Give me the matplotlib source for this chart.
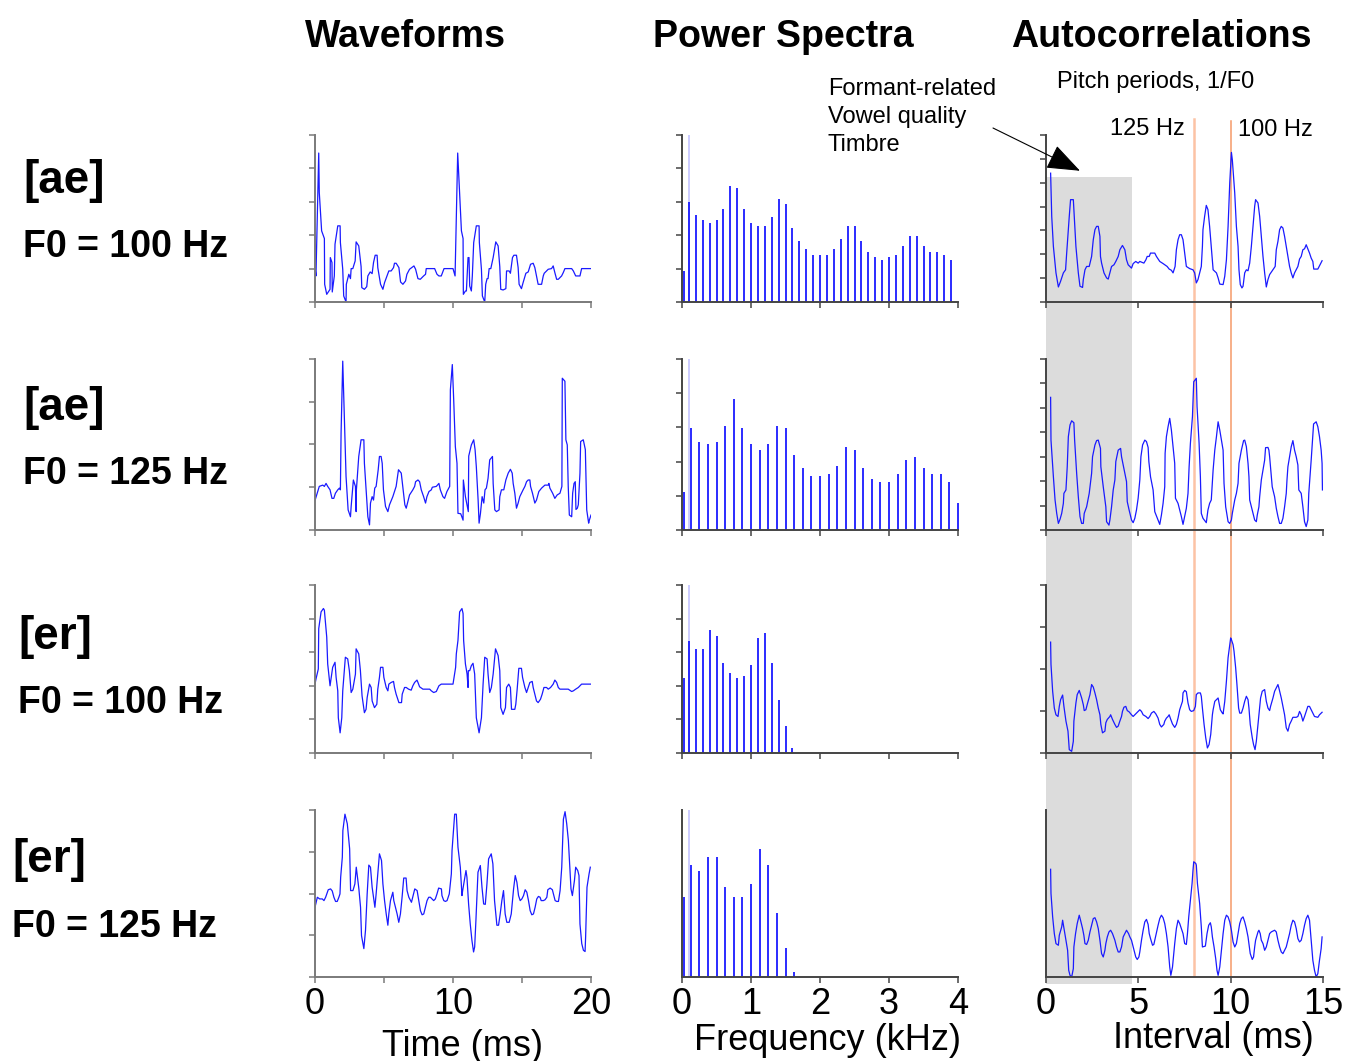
import matplotlib
matplotlib.use('Agg')
import matplotlib.pyplot as plt
from matplotlib.patches import Rectangle
from matplotlib.lines import Line2D

plt.rcParams['font.family'] = ['Liberation Sans', 'DejaVu Sans']

# ---- waveforms: (time ms, amplitude) ----
wave_ae100 = [(0.00, 1.03), (0.07, 0.78), (0.27, 4.46), (0.31, 3.28), (0.48, 2.13), (0.68, 1.90), (0.70, 0.53),
              (0.85, 0.23), (1.09, 0.38), (1.11, 1.33), (1.23, 1.18), (1.25, 0.30), (1.40, 0.78), (1.45, 1.73),
              (1.65, 2.28), (1.82, 2.28), (1.84, 1.78), (2.01, 0.98), (2.08, 0.18), (2.25, 0.00), (2.27, 0.53),
              (2.45, 0.83), (2.57, 0.70), (2.62, 1.00), (2.74, 1.00), (2.91, 1.23), (2.98, 1.80), (3.17, 1.68),
              (3.34, 1.06), (3.39, 0.43), (3.58, 0.38), (3.75, 0.46), (3.83, 0.78), (4.00, 0.90), (4.14, 0.85),
              (4.24, 1.18), (4.36, 1.40), (4.50, 1.40), (4.55, 1.03), (4.75, 0.53), (4.92, 0.38), (5.04, 0.58),
              (5.35, 0.93), (5.52, 0.93), (5.69, 1.03), (5.76, 1.16), (5.88, 1.16), (6.08, 1.03), (6.20, 0.60),
              (6.37, 0.53), (6.56, 0.63), (6.66, 0.83), (6.85, 0.98), (7.17, 1.08), (7.29, 0.98), (7.46, 0.70),
              (7.63, 0.68), (7.87, 0.78), (8.01, 0.83), (8.06, 1.00), (8.67, 1.00), (8.84, 0.83), (8.98, 0.78),
              (9.15, 0.78), (9.35, 1.00), (10.00, 1.00), (10.15, 0.78), (10.34, 4.46), (10.48, 3.28), (10.61, 2.13),
              (10.73, 1.90), (10.75, 0.23), (10.90, 0.33), (10.97, 0.33), (11.09, 1.33), (11.16, 1.33), (11.21, 0.48),
              (11.33, 0.33), (11.40, 0.78), (11.50, 1.78), (11.69, 2.28), (11.89, 2.28), (11.91, 1.78), (12.06, 0.98),
              (12.13, 0.18), (12.30, 0.00), (12.37, 0.53), (12.47, 0.70), (12.54, 0.70), (12.62, 1.00), (12.74, 1.00),
              (12.91, 1.33), (13.10, 1.80), (13.27, 1.68), (13.39, 1.06), (13.46, 0.38), (13.63, 0.36), (13.83, 0.40),
              (13.88, 0.93), (14.07, 0.93), (14.16, 0.86), (14.31, 1.33), (14.41, 1.40), (14.60, 1.40), (14.72, 1.03),
              (14.79, 0.53), (14.96, 0.40), (15.08, 0.58), (15.28, 0.86), (15.45, 0.90), (15.62, 1.13), (15.81, 1.16),
              (15.93, 1.03), (16.05, 0.78), (16.17, 0.53), (16.42, 0.53), (16.54, 0.78), (16.61, 0.86), (16.90, 0.98),
              (17.14, 1.00), (17.26, 1.08), (17.38, 0.88), (17.51, 0.68), (17.63, 0.68), (17.87, 0.78), (17.99, 0.88),
              (18.11, 1.00), (18.60, 1.00), (18.72, 0.93), (18.89, 0.78), (19.20, 0.78), (19.32, 1.00), (20.00, 1.00)]

wave_ae125 = [(0.00, 0.69), (0.31, 1.02), (0.56, 1.05), (0.68, 1.02), (0.80, 1.09), (0.92, 1.02), (1.09, 0.94),
              (1.23, 0.74), (1.36, 0.74), (1.48, 0.86), (1.65, 0.94), (1.77, 0.98), (1.84, 0.94), (1.89, 2.27),
              (2.01, 3.95), (2.18, 2.03), (2.25, 1.25), (2.40, 0.47), (2.57, 0.31), (2.62, 0.55), (2.78, 1.17),
              (2.93, 1.02), (2.98, 0.43), (3.00, 0.94), (3.17, 1.72), (3.34, 2.11), (3.54, 2.11), (3.58, 1.56),
              (3.70, 0.94), (3.83, 0.31), (3.95, 0.12), (4.02, 0.63), (4.14, 0.78), (4.24, 0.70), (4.33, 0.98),
              (4.43, 1.02), (4.58, 1.41), (4.67, 1.72), (4.79, 1.72), (4.87, 1.56), (4.96, 0.94), (5.11, 0.55),
              (5.28, 0.43), (5.40, 0.59), (5.64, 0.78), (5.88, 1.02), (6.05, 1.41), (6.25, 1.33), (6.42, 0.86),
              (6.51, 0.59), (6.61, 0.51), (6.73, 0.66), (6.85, 0.82), (7.09, 0.94), (7.22, 1.02), (7.29, 1.13),
              (7.46, 1.17), (7.58, 1.13), (7.70, 0.94), (7.87, 0.78), (8.01, 0.63), (8.11, 0.78), (8.26, 0.90),
              (8.43, 0.94), (8.50, 1.00), (8.79, 1.02), (8.98, 1.09), (9.08, 0.94), (9.27, 0.78), (9.39, 0.74),
              (9.56, 0.90), (9.76, 1.02), (9.81, 3.28), (9.95, 3.87), (10.05, 3.05), (10.17, 1.95), (10.29, 1.56),
              (10.36, 0.39), (10.56, 0.38), (10.73, 0.23), (10.75, 1.17), (10.90, 0.78), (11.04, 0.55), (11.11, 0.43),
              (11.14, 1.73), (11.33, 1.99), (11.50, 2.11), (11.60, 1.88), (11.69, 1.48), (11.82, 0.70), (11.89, 0.16),
              (11.99, 0.39), (12.11, 0.78), (12.23, 0.63), (12.32, 0.94), (12.42, 0.98), (12.54, 1.21), (12.66, 1.64),
              (12.86, 1.72), (12.91, 1.09), (13.03, 0.47), (13.15, 0.43), (13.34, 0.47), (13.39, 0.78), (13.51, 0.94),
              (13.68, 0.94), (13.83, 1.17), (14.00, 1.33), (14.16, 1.42), (14.29, 1.33), (14.36, 1.09), (14.48, 0.86),
              (14.60, 0.51), (14.72, 0.63), (14.84, 0.78), (14.96, 0.86), (15.08, 0.94), (15.21, 1.02), (15.33, 1.13),
              (15.45, 1.17), (15.57, 1.17), (15.62, 1.02), (15.76, 0.86), (15.93, 0.63), (16.05, 0.70), (16.22, 0.90),
              (16.42, 0.98), (16.66, 1.05), (16.90, 1.05), (16.95, 1.09), (17.02, 0.98), (17.22, 0.86), (17.38, 0.74),
              (17.55, 0.82), (17.75, 0.86), (17.89, 1.02), (17.92, 3.55), (18.11, 3.48), (18.18, 2.11), (18.28, 1.99),
              (18.35, 1.02), (18.43, 0.35), (18.60, 0.31), (18.67, 0.86), (18.77, 1.09), (18.86, 1.13), (18.91, 0.48),
              (19.01, 0.51), (19.08, 0.59), (19.20, 1.33), (19.25, 2.07), (19.44, 2.11), (19.59, 1.88), (19.69, 0.47),
              (19.83, 0.16), (19.88, 0.23), (20.00, 0.35)]

wave_er100 = [(0.00, 2.05), (0.07, 2.20), (0.24, 2.50), (0.27, 3.70), (0.44, 4.20), (0.61, 4.30), (0.68, 4.25),
              (0.85, 3.45), (0.92, 2.65), (1.09, 2.00), (1.21, 2.35), (1.28, 2.55), (1.45, 2.70), (1.53, 2.25),
              (1.65, 1.85), (1.69, 1.05), (1.82, 0.60), (1.94, 1.05), (2.01, 1.85), (2.20, 2.85), (2.37, 2.80),
              (2.49, 2.45), (2.62, 1.80), (2.74, 1.90), (2.93, 2.35), (2.98, 3.10), (3.17, 2.95), (3.29, 2.45),
              (3.41, 1.70), (3.58, 1.20), (3.70, 1.30), (3.78, 1.65), (3.95, 2.05), (4.07, 1.95), (4.14, 1.55),
              (4.31, 1.35), (4.48, 1.45), (4.55, 1.90), (4.67, 2.25), (4.75, 2.55), (4.92, 2.55), (4.99, 2.25),
              (5.16, 1.95), (5.28, 1.85), (5.35, 2.05), (5.52, 2.10), (5.69, 2.13), (5.76, 1.95), (5.88, 1.75),
              (6.08, 1.50), (6.27, 1.50), (6.32, 1.75), (6.49, 1.95), (6.61, 1.95), (6.78, 1.90), (6.97, 1.87),
              (7.09, 2.00), (7.22, 2.10), (7.39, 2.17), (7.46, 2.10), (7.58, 1.97), (7.82, 1.90), (8.31, 1.90),
              (8.43, 1.85), (8.60, 1.80), (8.79, 1.83), (8.98, 2.00), (9.15, 2.05), (10.00, 2.05), (10.19, 2.55),
              (10.24, 2.95), (10.36, 3.35), (10.48, 4.20), (10.65, 4.30), (10.73, 4.15), (10.77, 3.35), (10.90, 2.65),
              (11.02, 2.35), (11.09, 1.95), (11.11, 2.45), (11.21, 2.45), (11.33, 2.60), (11.45, 2.67), (11.57, 2.35),
              (11.69, 1.05), (11.89, 0.60), (12.06, 1.05), (12.18, 2.05), (12.30, 2.85), (12.47, 2.80), (12.54, 2.35),
              (12.66, 1.80), (12.78, 1.95), (12.91, 2.35), (13.08, 3.10), (13.27, 2.90), (13.39, 2.45), (13.46, 1.35),
              (13.63, 1.15), (13.80, 1.35), (13.88, 1.95), (14.04, 2.05), (14.16, 1.95), (14.24, 1.30), (14.48, 1.30),
              (14.55, 1.45), (14.65, 1.90), (14.77, 2.52), (14.96, 2.52), (15.04, 2.25), (15.21, 1.95), (15.33, 1.80),
              (15.45, 1.95), (15.57, 2.10), (15.74, 2.13), (15.81, 1.95), (15.93, 1.75), (16.05, 1.55), (16.17, 1.50),
              (16.34, 1.60), (16.46, 1.75), (16.59, 1.95), (16.78, 1.95), (16.90, 1.90), (17.07, 1.95), (17.26, 2.05),
              (17.38, 2.17), (17.51, 2.10), (17.63, 1.95), (17.75, 1.90), (18.35, 1.90), (18.60, 1.83), (18.72, 1.85),
              (18.89, 1.90), (19.08, 1.95), (19.32, 2.05), (20.00, 2.05)]

wave_er125 = [(0.00, 1.67), (0.17, 1.91), (0.34, 1.87), (0.53, 1.87), (0.65, 1.83), (0.77, 1.91), (0.96, 2.09),
              (1.13, 2.11), (1.25, 2.06), (1.37, 1.91), (1.49, 1.81), (1.61, 1.81), (1.73, 1.91), (1.81, 1.99),
              (1.86, 2.39), (1.98, 2.87), (2.02, 3.51), (2.17, 3.90), (2.34, 3.67), (2.51, 3.07), (2.58, 2.07),
              (2.75, 2.07), (2.89, 2.23), (2.99, 2.63), (3.08, 2.39), (3.18, 2.11), (3.30, 1.67), (3.37, 0.99),
              (3.54, 0.68), (3.66, 1.12), (3.78, 1.99), (3.90, 2.68), (4.02, 2.63), (4.14, 2.15), (4.27, 1.83),
              (4.34, 1.67), (4.43, 1.99), (4.55, 2.47), (4.67, 2.95), (4.82, 2.79), (4.92, 2.23), (5.04, 1.83),
              (5.16, 1.51), (5.28, 1.24), (5.35, 1.51), (5.47, 1.83), (5.64, 2.03), (5.71, 1.83), (5.83, 1.67),
              (5.95, 1.51), (6.07, 1.31), (6.19, 1.51), (6.31, 1.91), (6.43, 2.37), (6.60, 2.37), (6.67, 2.07),
              (6.80, 1.91), (6.99, 1.79), (7.08, 1.91), (7.23, 2.11), (7.40, 2.07), (7.52, 1.83), (7.64, 1.59),
              (7.76, 1.49), (7.88, 1.51), (8.00, 1.67), (8.12, 1.83), (8.24, 1.91), (8.36, 1.91), (8.48, 1.87),
              (8.60, 1.83), (8.72, 1.87), (8.84, 1.99), (8.96, 2.13), (9.16, 2.11), (9.20, 1.95), (9.33, 1.83),
              (9.45, 1.81), (9.57, 1.83), (9.73, 1.99), (9.88, 2.47), (9.93, 3.03), (10.12, 3.90), (10.24, 3.90),
              (10.36, 3.11), (10.53, 2.63), (10.65, 1.95), (10.70, 2.07), (10.80, 2.27), (10.94, 2.55), (11.01, 2.39),
              (11.13, 1.75), (11.25, 1.27), (11.37, 0.88), (11.49, 0.60), (11.57, 0.72), (11.66, 1.35), (11.81, 2.51),
              (11.98, 2.67), (12.10, 2.15), (12.22, 1.75), (12.34, 1.74), (12.46, 2.23), (12.58, 2.83), (12.77, 2.95),
              (12.89, 2.71), (13.01, 1.83), (13.18, 1.24), (13.30, 1.24), (13.42, 1.51), (13.54, 1.83), (13.66, 2.07),
              (13.78, 1.51), (13.90, 1.31), (14.07, 1.31), (14.22, 1.51), (14.39, 2.11), (14.51, 2.43), (14.63, 2.27),
              (14.75, 1.95), (14.87, 1.83), (14.99, 1.87), (15.11, 1.95), (15.23, 2.09), (15.35, 2.03), (15.47, 1.83),
              (15.59, 1.59), (15.71, 1.49), (15.83, 1.51), (15.95, 1.67), (16.07, 1.87), (16.19, 1.93), (16.31, 1.91),
              (16.39, 1.83), (16.55, 1.83), (16.67, 1.85), (16.80, 1.91), (16.87, 2.09), (17.04, 2.13), (17.20, 2.09),
              (17.28, 1.99), (17.40, 1.83), (17.52, 1.81), (17.64, 1.81), (17.76, 2.07), (17.88, 2.63), (18.00, 3.78),
              (18.12, 3.96), (18.24, 3.67), (18.36, 3.27), (18.48, 2.55), (18.55, 2.11), (18.65, 1.95), (18.80, 2.31),
              (18.89, 2.63), (19.04, 2.55), (19.13, 2.43), (19.20, 1.27), (19.33, 0.80), (19.45, 0.64), (19.57, 0.61),
              (19.61, 0.96), (19.71, 2.15), (19.86, 2.47), (19.95, 2.63)]

# ---- power spectra: (frequency kHz, level) ----
spec_ae100 = [(0.025, 0.94), (0.1, 3.00), (0.2, 2.61), (0.3, 2.46), (0.4, 2.38), (0.5, 2.46), (0.6, 2.78),
              (0.7, 3.48), (0.8, 3.40), (0.9, 2.78), (1.0, 2.38), (1.1, 2.29), (1.2, 2.29), (1.3, 2.54),
              (1.4, 3.09), (1.5, 2.94), (1.6, 2.21), (1.7, 1.82), (1.8, 1.59), (1.9, 1.42), (2.0, 1.42),
              (2.1, 1.42), (2.2, 1.59), (2.3, 1.90), (2.4, 2.29), (2.5, 2.29), (2.6, 1.82), (2.7, 1.50),
              (2.8, 1.34), (2.9, 1.26), (3.0, 1.34), (3.1, 1.42), (3.2, 1.67), (3.3, 1.98), (3.4, 1.98),
              (3.5, 1.67), (3.6, 1.50), (3.7, 1.50), (3.8, 1.42), (3.9, 1.26)]

spec_ae125 = [(0.025, 1.10), (0.125, 2.97), (0.25, 2.58), (0.375, 2.50), (0.5, 2.58), (0.625, 3.05),
              (0.75, 3.83), (0.875, 2.97), (1.0, 2.50), (1.125, 2.35), (1.25, 2.50), (1.375, 3.05), (1.5, 2.97),
              (1.625, 2.19), (1.75, 1.80), (1.875, 1.57), (2.0, 1.57), (2.125, 1.65), (2.25, 1.88), (2.375, 2.43),
              (2.5, 2.35), (2.625, 1.80), (2.75, 1.49), (2.875, 1.41), (3.0, 1.41), (3.125, 1.65), (3.25, 2.04),
              (3.375, 2.12), (3.5, 1.80), (3.625, 1.65), (3.75, 1.65), (3.875, 1.41), (4.0, 0.79)]

spec_er100 = [(0.025, 2.22), (0.1, 3.33), (0.2, 3.09), (0.3, 3.09), (0.4, 3.65), (0.5, 3.49), (0.6, 2.69),
              (0.7, 2.38), (0.8, 2.22), (0.9, 2.30), (1.0, 2.61), (1.1, 3.41), (1.2, 3.57), (1.3, 2.69),
              (1.4, 1.58), (1.5, 0.79), (1.6, 0.15)]

spec_er125 = [(0.025, 2.39), (0.125, 3.34), (0.25, 3.18), (0.375, 3.58), (0.5, 3.58), (0.625, 2.70),
              (0.75, 2.39), (0.875, 2.39), (1.0, 2.78), (1.125, 3.82), (1.25, 3.34), (1.375, 1.91), (1.5, 0.87),
              (1.625, 0.16)]

ref_freq = 0.1  # full-height reference line in every spectrum

# ---- autocorrelations: (interval ms, value) ----
acf_ae100 = [(0.25, 5.40), (0.31, 3.59), (0.40, 2.33), (0.54, 1.22), (0.67, 0.63), (0.79, 0.87), (0.94, 1.22),
             (1.06, 1.35), (1.12, 2.05), (1.26, 3.59), (1.33, 4.29), (1.48, 4.29), (1.53, 3.59), (1.62, 2.33),
             (1.75, 1.22), (1.84, 0.66), (1.98, 0.61), (2.02, 0.94), (2.11, 1.35), (2.20, 1.49), (2.34, 1.49),
             (2.47, 1.91), (2.56, 2.61), (2.65, 3.03), (2.74, 3.17), (2.83, 3.17), (2.92, 2.75), (2.95, 1.91),
             (3.01, 1.63), (3.14, 1.22), (3.28, 1.01), (3.37, 0.96), (3.46, 1.22), (3.55, 1.49), (3.68, 1.56),
             (3.78, 1.70), (3.91, 1.91), (4.00, 2.19), (4.14, 2.37), (4.27, 2.19), (4.36, 1.77), (4.45, 1.56),
             (4.63, 1.42), (4.72, 1.61), (4.86, 1.70), (4.99, 1.63), (5.08, 1.70), (5.30, 1.63), (5.41, 1.77),
             (5.48, 1.91), (5.59, 1.91), (5.66, 2.05), (5.89, 2.05), (5.98, 1.91), (6.16, 1.70), (6.34, 1.61),
             (6.56, 1.49), (6.67, 1.38), (6.79, 1.33), (6.88, 1.22), (6.99, 1.49), (7.06, 2.19), (7.15, 2.61),
             (7.24, 2.82), (7.33, 2.82), (7.42, 2.61), (7.51, 2.05), (7.60, 1.49), (7.78, 1.40), (7.96, 1.35),
             (8.05, 1.22), (8.14, 0.80), (8.23, 0.94), (8.32, 1.22), (8.41, 1.49), (8.47, 2.33), (8.50, 3.03),
             (8.59, 3.59), (8.68, 4.05), (8.77, 3.87), (8.86, 3.17), (8.95, 2.33), (9.05, 1.35), (9.23, 1.22),
             (9.32, 1.01), (9.41, 0.75), (9.59, 0.73), (9.68, 1.08), (9.77, 1.77), (9.86, 3.17), (9.95, 4.99),
             (10.04, 6.27), (10.09, 5.96), (10.13, 5.54), (10.22, 4.57), (10.31, 3.17), (10.40, 2.33),
             (10.45, 1.35), (10.52, 0.73), (10.61, 0.59), (10.67, 0.66), (10.76, 1.22), (10.85, 1.35),
             (10.94, 1.31), (11.03, 1.63), (11.12, 2.33), (11.21, 3.17), (11.30, 4.01), (11.35, 4.29),
             (11.48, 4.15), (11.57, 3.59), (11.66, 2.75), (11.75, 1.91), (11.84, 1.22), (11.93, 0.63),
             (12.02, 0.94), (12.11, 1.15), (12.29, 1.35), (12.41, 1.49), (12.47, 2.19), (12.56, 2.54),
             (12.65, 3.03), (12.74, 3.17), (12.83, 3.10), (12.92, 2.75), (13.01, 2.33), (13.10, 1.91),
             (13.19, 1.49), (13.28, 1.22), (13.37, 1.01), (13.46, 1.22), (13.64, 1.49), (13.73, 1.80),
             (13.82, 1.91), (13.91, 2.19), (14.00, 2.23), (14.09, 2.40), (14.18, 2.22), (14.27, 2.05),
             (14.36, 1.84), (14.45, 1.70), (14.50, 1.38), (14.72, 1.38), (14.81, 1.52), (14.95, 1.73)]

acf_ae125 = [(0.25, 5.43), (0.27, 3.68), (0.40, 2.18), (0.49, 1.23), (0.58, 0.68), (0.67, 0.27), (0.76, 0.44),
             (0.85, 0.68), (0.94, 1.09), (0.97, 1.50), (1.08, 1.64), (1.15, 2.59), (1.21, 3.82), (1.30, 4.30),
             (1.39, 4.47), (1.51, 4.39), (1.55, 3.68), (1.66, 2.32), (1.75, 1.36), (1.84, 0.55), (1.93, 0.27),
             (2.02, 0.27), (2.07, 0.68), (2.20, 0.95), (2.34, 1.50), (2.47, 2.32), (2.52, 3.00), (2.65, 3.48),
             (2.74, 3.66), (2.83, 3.68), (2.95, 3.34), (2.97, 2.59), (3.10, 1.77), (3.24, 0.95), (3.28, 0.34),
             (3.41, 0.20), (3.46, 0.41), (3.55, 0.95), (3.64, 1.64), (3.73, 2.05), (3.78, 2.80), (3.91, 3.27),
             (4.04, 3.34), (4.09, 3.00), (4.18, 2.66), (4.27, 2.32), (4.36, 1.98), (4.40, 1.16), (4.50, 0.82),
             (4.63, 0.41), (4.72, 0.30), (4.81, 0.48), (4.90, 0.82), (4.99, 1.30), (5.08, 2.05), (5.14, 3.00),
             (5.23, 3.48), (5.35, 3.68), (5.44, 3.62), (5.53, 3.38), (5.57, 2.80), (5.66, 2.18), (5.80, 1.64),
             (5.89, 0.75), (6.07, 0.41), (6.16, 0.23), (6.25, 0.61), (6.34, 1.09), (6.43, 1.77), (6.45, 3.14),
             (6.52, 3.82), (6.61, 4.23), (6.70, 4.57), (6.79, 4.09), (6.88, 3.41), (6.97, 2.73), (7.01, 1.30),
             (7.15, 1.09), (7.24, 0.82), (7.33, 0.55), (7.42, 0.23), (7.51, 0.55), (7.60, 0.89), (7.69, 1.50),
             (7.75, 2.59), (7.82, 3.55), (7.93, 4.64), (8.00, 6.07), (8.14, 6.21), (8.18, 5.05), (8.29, 3.55),
             (8.36, 2.18), (8.41, 0.68), (8.50, 0.48), (8.68, 0.30), (8.77, 0.82), (8.86, 1.09), (8.95, 1.23),
             (9.05, 2.46), (9.14, 3.27), (9.23, 3.82), (9.32, 4.43), (9.41, 4.09), (9.50, 3.68), (9.59, 3.27),
             (9.64, 1.91), (9.73, 0.95), (9.86, 0.34), (9.95, 0.27), (10.04, 0.41), (10.09, 0.68), (10.22, 1.23),
             (10.31, 1.50), (10.40, 1.91), (10.45, 2.73), (10.58, 3.27), (10.70, 3.66), (10.76, 3.68),
             (10.85, 3.41), (10.94, 2.73), (10.99, 2.18), (11.03, 1.23), (11.21, 0.68), (11.30, 0.41),
             (11.39, 0.34), (11.44, 0.61), (11.53, 0.95), (11.57, 1.36), (11.66, 2.05), (11.75, 2.46),
             (11.84, 2.86), (11.89, 3.37), (12.02, 3.38), (12.07, 3.27), (12.11, 3.00), (12.20, 2.18),
             (12.25, 1.77), (12.38, 1.36), (12.47, 0.89), (12.56, 0.55), (12.65, 0.27), (12.74, 0.27),
             (12.83, 0.48), (12.92, 0.95), (13.01, 1.50), (13.05, 2.05), (13.10, 2.59), (13.19, 3.00),
             (13.28, 3.41), (13.37, 3.66), (13.46, 3.27), (13.55, 3.00), (13.64, 2.66), (13.69, 1.64),
             (13.82, 1.50), (13.91, 0.95), (14.00, 0.34), (14.09, 0.14), (14.18, 0.41), (14.23, 1.50),
             (14.36, 2.86), (14.49, 4.34), (14.63, 4.43), (14.72, 4.23), (14.81, 3.82), (14.90, 3.27),
             (14.95, 2.73), (14.97, 1.64)]

acf_er100 = [(0.25, 2.64), (0.27, 2.11), (0.36, 1.47), (0.45, 1.07), (0.54, 0.91), (0.65, 0.87), (0.72, 1.11),
             (0.79, 1.27), (0.90, 1.38), (0.97, 1.11), (1.08, 0.76), (1.19, 0.52), (1.26, 0.08), (1.39, 0.04),
             (1.48, 0.28), (1.51, 0.76), (1.62, 1.19), (1.69, 1.39), (1.80, 1.49), (1.93, 1.31), (2.02, 1.15),
             (2.07, 1.01), (2.16, 1.03), (2.23, 1.15), (2.38, 1.39), (2.47, 1.63), (2.56, 1.57), (2.65, 1.43),
             (2.74, 1.27), (2.83, 1.07), (2.92, 0.91), (2.97, 0.68), (3.06, 0.48), (3.19, 0.52), (3.24, 0.72),
             (3.32, 0.80), (3.46, 0.87), (3.50, 0.91), (3.60, 0.80), (3.73, 0.68), (3.82, 0.61), (3.91, 0.64),
             (4.00, 0.76), (4.09, 0.87), (4.14, 0.99), (4.22, 1.09), (4.32, 1.11), (4.40, 1.01), (4.50, 0.98),
             (4.63, 0.91), (4.72, 0.87), (4.81, 0.91), (4.94, 0.97), (5.08, 1.03), (5.17, 0.99), (5.26, 0.91),
             (5.41, 0.87), (5.53, 0.82), (5.62, 0.87), (5.71, 0.95), (5.84, 0.99), (5.95, 0.93), (6.07, 0.83),
             (6.16, 0.68), (6.25, 0.62), (6.38, 0.68), (6.43, 0.76), (6.52, 0.83), (6.61, 0.87), (6.67, 0.91),
             (6.74, 0.82), (6.85, 0.69), (6.97, 0.61), (7.06, 0.68), (7.15, 0.83), (7.24, 1.03), (7.33, 1.15),
             (7.39, 1.23), (7.42, 1.43), (7.51, 1.49), (7.60, 1.46), (7.69, 1.19), (7.78, 1.03), (7.87, 0.99),
             (8.00, 1.01), (8.09, 1.11), (8.14, 1.39), (8.23, 1.43), (8.36, 1.43), (8.41, 1.35), (8.47, 1.07),
             (8.56, 0.68), (8.65, 0.36), (8.74, 0.12), (8.83, 0.20), (8.92, 0.44), (9.01, 0.91), (9.05, 1.03),
             (9.14, 1.23), (9.23, 1.27), (9.32, 1.31), (9.37, 1.19), (9.44, 1.03), (9.55, 0.95), (9.59, 0.93),
             (9.68, 1.23), (9.77, 1.71), (9.86, 2.27), (9.95, 2.58), (10.00, 2.74), (10.04, 2.70), (10.13, 2.58),
             (10.18, 2.43), (10.27, 2.03), (10.34, 1.63), (10.43, 1.07), (10.49, 0.95), (10.58, 0.95),
             (10.67, 1.07), (10.76, 1.23), (10.85, 1.35), (10.94, 1.27), (10.99, 1.07), (11.06, 0.68),
             (11.17, 0.36), (11.24, 0.20), (11.32, 0.08), (11.39, 0.28), (11.48, 0.68), (11.57, 1.07),
             (11.62, 1.31), (11.71, 1.47), (11.84, 1.51), (11.93, 1.23), (12.02, 1.07), (12.11, 1.01),
             (12.16, 1.11), (12.29, 1.31), (12.38, 1.47), (12.47, 1.55), (12.56, 1.63), (12.61, 1.55),
             (12.74, 1.31), (12.83, 1.11), (12.92, 0.91), (13.01, 0.60), (13.10, 0.52), (13.19, 0.68),
             (13.28, 0.76), (13.37, 0.85), (13.55, 0.85), (13.64, 0.87), (13.73, 0.99), (13.82, 0.91),
             (13.91, 0.76), (14.00, 0.87), (14.09, 0.99), (14.18, 1.11), (14.27, 1.11), (14.36, 1.03),
             (14.45, 0.95), (14.54, 0.87), (14.72, 0.85), (14.81, 0.91), (14.95, 0.97)]

acf_er125 = [(0.25, 2.58), (0.27, 2.00), (0.36, 1.44), (0.45, 1.04), (0.54, 0.80), (0.67, 0.76), (0.72, 1.00),
             (0.85, 1.20), (0.90, 1.36), (0.99, 1.12), (1.08, 0.88), (1.17, 0.64), (1.23, 0.16), (1.30, 0.04),
             (1.39, 0.00), (1.48, 0.20), (1.51, 0.72), (1.60, 1.04), (1.69, 1.28), (1.80, 1.48), (1.87, 1.36),
             (1.98, 1.16), (2.05, 1.00), (2.11, 0.80), (2.20, 0.78), (2.29, 0.88), (2.38, 1.08), (2.47, 1.24),
             (2.56, 1.40), (2.65, 1.42), (2.74, 1.32), (2.83, 1.16), (2.92, 0.88), (3.01, 0.56), (3.10, 0.48),
             (3.19, 0.64), (3.24, 0.80), (3.32, 0.96), (3.41, 1.08), (3.50, 1.12), (3.60, 1.04), (3.73, 0.88),
             (3.82, 0.72), (3.91, 0.60), (4.00, 0.60), (4.09, 0.72), (4.18, 0.96), (4.31, 1.08), (4.36, 1.12),
             (4.47, 1.04), (4.54, 0.96), (4.63, 0.88), (4.72, 0.72), (4.86, 0.48), (4.94, 0.42), (5.03, 0.48),
             (5.08, 0.60), (5.17, 0.88), (5.26, 1.12), (5.35, 1.32), (5.44, 1.38), (5.53, 1.26), (5.59, 1.04),
             (5.66, 0.92), (5.77, 0.76), (5.84, 0.78), (5.95, 1.00), (6.07, 1.24), (6.16, 1.40), (6.25, 1.48),
             (6.34, 1.42), (6.43, 1.28), (6.52, 1.04), (6.61, 0.72), (6.70, 0.24), (6.76, 0.04), (6.85, 0.24),
             (6.92, 0.56), (6.97, 0.80), (7.06, 1.16), (7.15, 1.36), (7.24, 1.28), (7.33, 1.16), (7.42, 1.04),
             (7.51, 0.80), (7.60, 0.78), (7.66, 1.04), (7.73, 1.44), (7.82, 1.84), (7.91, 2.24), (7.96, 2.56),
             (8.00, 2.76), (8.11, 2.72), (8.14, 2.68), (8.20, 2.24), (8.32, 1.76), (8.41, 1.20), (8.47, 0.72),
             (8.63, 0.74), (8.72, 1.04), (8.81, 1.24), (8.90, 1.30), (8.95, 1.20), (9.01, 0.96), (9.10, 0.72),
             (9.19, 0.44), (9.26, 0.16), (9.32, 0.04), (9.41, 0.24), (9.50, 0.64), (9.59, 1.04), (9.68, 1.36),
             (9.77, 1.48), (9.86, 1.44), (9.95, 1.32), (10.04, 1.12), (10.13, 0.84), (10.22, 0.72),
             (10.31, 0.80), (10.40, 1.04), (10.49, 1.28), (10.58, 1.40), (10.67, 1.44), (10.76, 1.32),
             (10.85, 1.16), (10.94, 0.96), (10.99, 0.80), (11.06, 0.56), (11.17, 0.42), (11.24, 0.48),
             (11.30, 0.72), (11.35, 0.88), (11.48, 1.08), (11.53, 1.12), (11.60, 1.04), (11.66, 0.88),
             (11.75, 0.80), (11.84, 0.64), (11.93, 0.72), (12.02, 0.88), (12.11, 1.04), (12.20, 1.08),
             (12.38, 1.12), (12.47, 1.08), (12.56, 0.88), (12.65, 0.72), (12.74, 0.60), (12.83, 0.56),
             (12.92, 0.64), (13.01, 0.72), (13.10, 0.88), (13.19, 1.04), (13.28, 1.24), (13.37, 1.36),
             (13.46, 1.32), (13.55, 1.16), (13.64, 0.92), (13.73, 0.84), (13.82, 0.88), (13.91, 1.04),
             (14.00, 1.24), (14.09, 1.40), (14.18, 1.48), (14.27, 1.36), (14.36, 0.88), (14.45, 0.40),
             (14.54, 0.16), (14.63, 0.00), (14.72, 0.08), (14.81, 0.40), (14.90, 0.68), (14.95, 0.96)]

vowels = ['[ae]', '[ae]', '[er]', '[er]']
f0_labels = ['F0 = 100 Hz', 'F0 = 125 Hz', 'F0 = 100 Hz', 'F0 = 125 Hz']
pitch_periods = [8.0, 10.0]   # 1/125 Hz and 1/100 Hz in ms

waves = [wave_ae100, wave_ae125, wave_er100, wave_er125]
specs = [spec_ae100, spec_ae125, spec_er100, spec_er125]
acfs = [acf_ae100, acf_ae125, acf_er100, acf_er125]
wave_top = [5, 4, 5, 4]
acf_top = [7, 7, 4, 4]

W, H = 1351, 1061
fig = plt.figure(figsize=(W / 100, H / 100), dpi=100)

def box(l, t, r, b):
    return [l / W, 1 - b / H, (r - l) / W, (b - t) / H]

cols = [(315, 591), (682, 958), (1046, 1323)]
rows = [(135, 302), (359, 530), (585, 753), (810, 977)]
BLUE = '#1a1aff'

def style(ax, spine_col, xlim, xticks, ylim, yticks):
    ax.set_facecolor('none')
    ax.spines['top'].set_visible(False)
    ax.spines['right'].set_visible(False)
    for s in ['left', 'bottom']:
        ax.spines[s].set_color(spine_col)
        ax.spines[s].set_linewidth(1.4)
    ax.set_xlim(xlim)
    ax.set_ylim(ylim)
    ax.set_xticks(xticks)
    ax.set_yticks(yticks)
    ax.tick_params(length=4, width=1.1, color=spine_col, labelleft=False, labelbottom=False)

wave_axes, spec_axes, acf_axes = [], [], []
for i in range(4):
    t, b = rows[i]
    last = (i == 3)

    # waveform
    ax = fig.add_axes(box(cols[0][0], t, cols[0][1], b))
    tt, yy = zip(*waves[i])
    ax.plot(tt, yy, color=BLUE, lw=0.9)
    style(ax, '#7a7a7a', (0, 20), [0, 5, 10, 15, 20], (0, wave_top[i]), range(wave_top[i] + 1))
    wave_axes.append(ax)

    # spectrum
    ax = fig.add_axes(box(cols[1][0], t, cols[1][1], b))
    ax.vlines(ref_freq, 0, 5, color='#c4c4ff', lw=1.2)
    ff, ll = zip(*specs[i])
    ax.vlines(ff, 0, ll, color=BLUE, lw=1.3, clip_on=False)
    style(ax, '#444444', (0, 4), [0, 1, 2, 3, 4], (0, 5), [] if last else range(6))
    spec_axes.append(ax)

    # autocorrelation
    ax = fig.add_axes(box(cols[2][0], t, cols[2][1], b))
    tt, yy = zip(*acfs[i])
    ax.plot(tt, yy, color=BLUE, lw=0.9)
    style(ax, '#444444', (0, 15), [0, 5, 10, 15], (0, acf_top[i]), [] if last else range(acf_top[i] + 1))
    acf_axes.append(ax)

    # row labels
    fig.text([23, 23, 18, 12][i] / W, 1 - [181, 408, 637, 860][i] / H, vowels[i],
             fontsize=33, fontweight='bold', ha='left', va='center')
    fig.text([23, 23, 18, 12][i] / W, 1 - [247, 474, 703, 927][i] / H, f0_labels[i],
             fontsize=27, fontweight='bold', ha='left', va='center')

# bottom tick labels
wave_axes[3].set_xticklabels(['0', '', '10', '', '20'])
spec_axes[3].set_xticklabels(['0', '1', '2', '3', '4'])
acf_axes[3].set_xticklabels(['0', '5', '10', '15'])
for ax in [wave_axes[3], spec_axes[3], acf_axes[3]]:
    ax.tick_params(axis='x', labelbottom=True, labelsize=26, pad=3)

fig.text(463 / W, 1 - 1046 / H, 'Time (ms)', fontsize=26, ha='center', va='center')
fig.text(827 / W, 1 - 1041 / H, 'Frequency (kHz)', fontsize=26, ha='center', va='center')
fig.text(1213 / W, 1 - 1039 / H, 'Interval (ms)', fontsize=26, ha='center', va='center')

# column titles
for x, title in [(405, 'Waveforms'), (783, 'Power Spectra'), (1161, 'Autocorrelations')]:
    fig.text(x / W, 1 - 37 / H, title, fontsize=27, fontweight='bold', ha='center', va='center')

fig.canvas.draw()
to_fig = fig.transFigure.inverted()

# shaded short-lag region spanning all autocorrelation panels
(x0, y0) = to_fig.transform(acf_axes[3].transData.transform((0, -0.17)))
(x1, y1) = to_fig.transform(acf_axes[0].transData.transform((4.63, 5.25)))
fig.add_artist(Rectangle((x0, y0), x1 - x0, y1 - y0, transform=fig.transFigure,
                         facecolor='#dcdcdc', edgecolor='none', zorder=-2))

# pitch period markers
for per, top, bot, col, lw in [(pitch_periods[0], 7.68, 0.05, '#fcc3a5', 1.8),
                               (pitch_periods[1], 7.57, 0.0, '#f59a68', 1.1)]:
    xa, ya = to_fig.transform(acf_axes[0].transData.transform((per, top)))
    xb, yb = to_fig.transform(acf_axes[3].transData.transform((per, bot)))
    fig.add_artist(Line2D([xa, xb], [ya, yb], transform=fig.transFigure, color=col, lw=lw, zorder=-1))

fig.text(1057 / W, 1 - 82 / H, 'Pitch periods, 1/F0', fontsize=17, ha='left', va='center')
fig.text(1110 / W, 1 - 129 / H, '125 Hz', fontsize=17, ha='left', va='center')
fig.text(1238 / W, 1 - 130 / H, '100 Hz', fontsize=17, ha='left', va='center')
fig.text(828 / W, 1 - 117 / H, 'Formant-related\nVowel quality\nTimbre', fontsize=17,
         ha='left', va='center', linespacing=1.38)

acf_axes[0].annotate('', xy=(1.84, 5.5), xycoords='data',
                     xytext=(993 / W, 1 - 128 / H), textcoords='figure fraction',
                     arrowprops=dict(arrowstyle='-|>,head_length=2.1,head_width=0.8', color='black',
                                     lw=0.8, mutation_scale=10, shrinkA=0, shrinkB=0))

fig.savefig('out.png', dpi=100)
